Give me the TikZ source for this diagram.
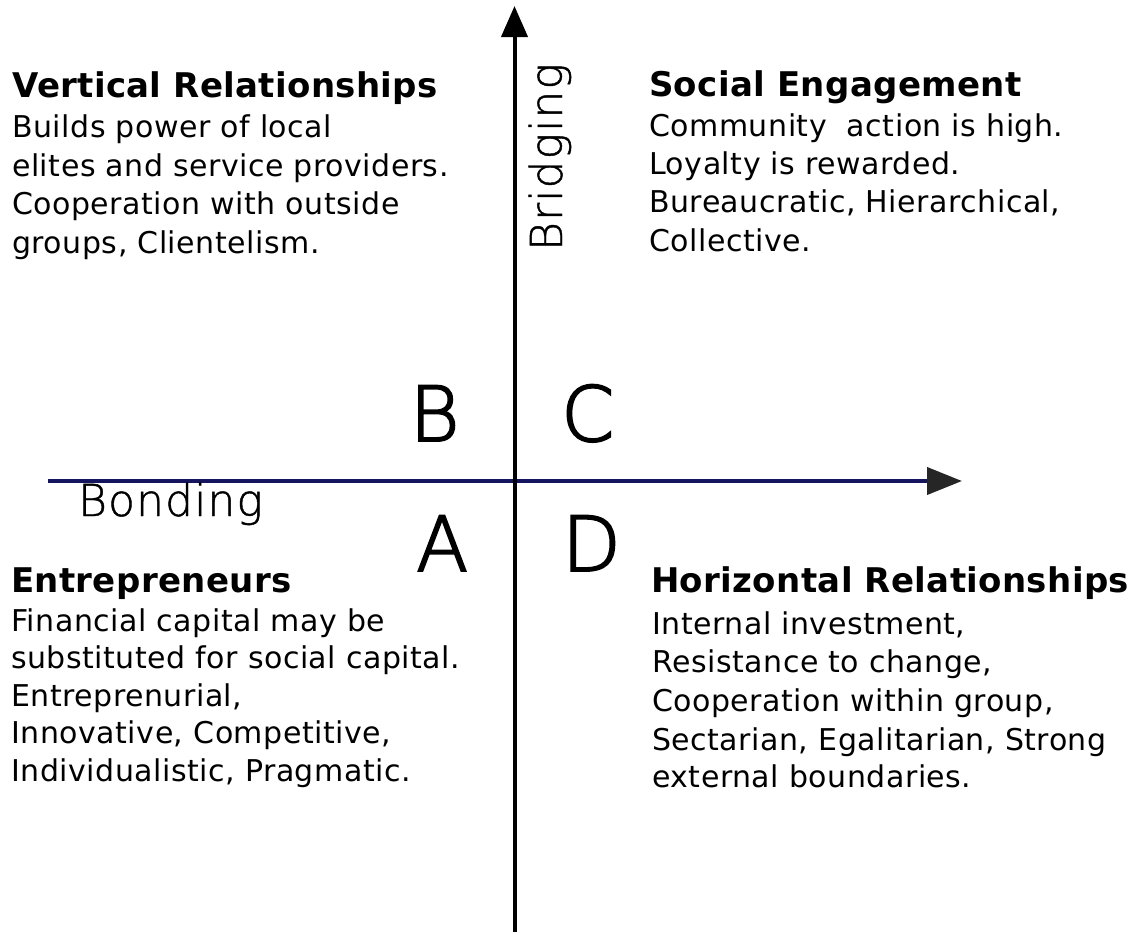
\documentclass[tikz,border=0pt]{standalone}
\usepackage{fontspec}
\setmainfont{DejaVu Sans}
\newfontfamily\headfont{DejaVu Sans}[LetterSpace=1]
\newfontfamily\bodyfont{DejaVu Sans}[LetterSpace=1.7]
\IfFontExistsTF{DejaVu Sans ExtraLight}
  {\newfontfamily\thinfont{DejaVu Sans ExtraLight}[FakeBold=2.5]
   \newfontfamily\labfont{DejaVu Sans ExtraLight}[FakeBold=1,LetterSpace=2.5]}
  {\newfontfamily\thinfont{DejaVu Sans}
   \newfontfamily\labfont{DejaVu Sans}}
\usetikzlibrary{arrows.meta}
\definecolor{axisnavy}{RGB}{20,20,95}
\begin{document}
\begin{tikzpicture}[x=1pt,y=-1pt,
  head/.style={anchor=base west, inner sep=0, font=\headfont\bfseries\fontsize{34}{40}\selectfont},
  body/.style={anchor=base west, inner sep=0, font=\bodyfont\fontsize{30}{36}\selectfont},
  quad/.style={anchor=base west, inner sep=0, font=\thinfont\fontsize{76}{80}\selectfont},
  axlab/.style={anchor=base west, inner sep=0, font=\labfont\fontsize{44}{50}\selectfont}]
\useasboundingbox[fill=white] (0,0) rectangle (1130,932);
% axes
\coordinate (vbot) at (514.5,932);
\coordinate (vtop) at (514.5,6);
\coordinate (hl) at (48,481);
\coordinate (hr) at (962,481);
\draw[axisnavy, line width=4pt, -{Triangle[length=35pt,width=27pt,color=black!85]}] (hl) -- (hr);
\draw[black, line width=4pt, -{Triangle[length=31pt,width=26pt]}] (vbot) -- (vtop);
% axis labels
\node[axlab] (bonding) at (78,516) {Bonding};
\node[axlab, rotate=90] (bridging) at (562,251) {Bridging};
% quadrant letters
\node[quad] (qB) at (409.5,441) {B};
\node[quad] (qC) at (561,441) {C};
\node[quad] (qA) at (416,571) {A};
\node[quad] (qD) at (562,571) {D};
% top left
\node[head] (tlh) at (12,97) {Vertical Relationships};
\node[body] (tl1) at (12,137) {Builds power of local};
\node[body] (tl2) at (12,176) {elites and service providers.};
\node[body] (tl3) at (12,214) {Cooperation with outside};
\node[body] (tl4) at (12,253) {groups, Clientelism.};
% top right
\node[head] (trh) at (649,96) {Social Engagement};
\node[body] (tr1) at (649,136) {Community\ \ action is high.};
\node[body] (tr2) at (649,174) {Loyalty is rewarded.};
\node[body] (tr3) at (649,212) {Bureaucratic, Hierarchical,};
\node[body] (tr4) at (649,251) {Collective.};
% bottom left
\node[head] (blh) at (11,592) {Entrepreneurs};
\node[body] (bl1) at (11,631) {Financial capital may be};
\node[body] (bl2) at (11,668) {substituted for social capital.};
\node[body] (bl3) at (11,706) {Entreprenurial,};
\node[body] (bl4) at (11,743) {Innovative, Competitive,};
\node[body] (bl5) at (11,781) {Individualistic, Pragmatic.};
% bottom right
\node[head] (brh) at (651,592) {Horizontal Relationships};
\node[body] (br1) at (652,634) {Internal investment,};
\node[body] (br2) at (652,672) {Resistance to change,};
\node[body] (br3) at (652,711) {Cooperation within group,};
\node[body] (br4) at (652,750) {Sectarian, Egalitarian, Strong};
\node[body] (br5) at (652,787) {external boundaries.};
\end{tikzpicture}
\end{document}
